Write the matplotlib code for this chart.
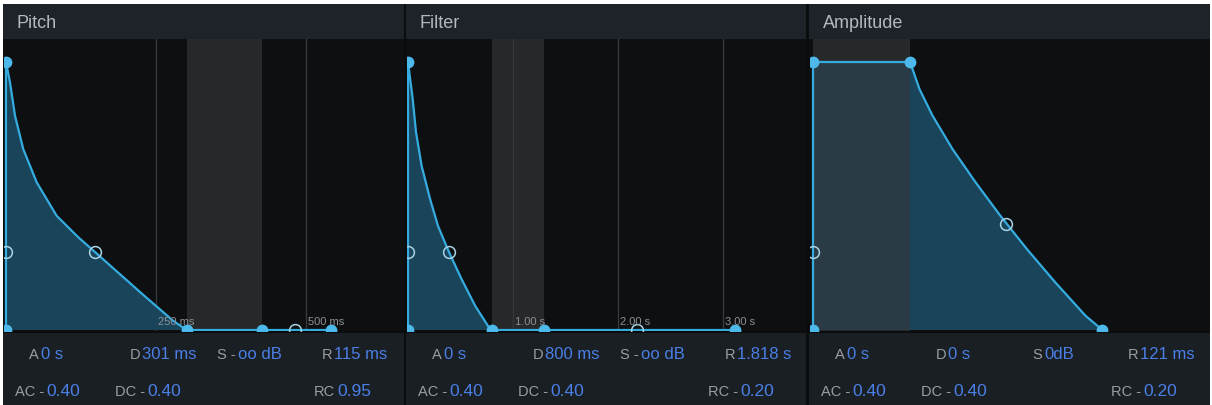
"""
plot.py

Recria o painel de envelopes (Pitch / Filter / Amplitude) de um synth.
"""

import matplotlib
matplotlib.use("Agg")
import matplotlib.pyplot as plt
from matplotlib.patches import Rectangle

plt.rcParams["font.family"] = ["Liberation Sans", "DejaVu Sans"]

# Tamanho da imagem em pixels
W, H = 1212, 406

# ---------------- Dados ----------------
# Pitch (tempo em ms, nível 0..1)
pitch_env_t = [0, 0, 6.7, 15, 28.8, 51.2, 84.5, 120, 148.3, 185, 228.3, 278.3, 301, 427, 542]
pitch_env_lvl = [0, 1.0, 0.924, 0.80, 0.675, 0.551, 0.426, 0.347, 0.291, 0.218, 0.132, 0.035, 0, 0, 0]
pitch_dots_t = [0, 0, 301, 427, 542]
pitch_dots_lvl = [0, 1.0, 0, 0, 0]
pitch_handles_t = [0, 148.3, 482]
pitch_handles_lvl = [0.29, 0.291, 0]
pitch_hold = [301, 427]
pitch_grid = [250, 500]
pitch_grid_labels = ["250 ms", "500 ms"]
pitch_row1_labels = ["A", "D", "S -", "R"]
pitch_row1_values = ["0 s", "301 ms", "oo dB", "115 ms"]
pitch_row2_labels = ["AC -", "DC -", "RC"]
pitch_row2_values = ["0.40", "0.40", "0.95"]

# Filter (tempo em s)
filter_env_t = [0, 0, 0.045, 0.076, 0.13, 0.21, 0.286, 0.39, 0.51, 0.64, 0.78, 0.80, 1.295, 3.113]
filter_env_lvl = [0, 1.0, 0.862, 0.739, 0.612, 0.489, 0.388, 0.291, 0.19, 0.09, 0.004, 0, 0, 0]
filter_dots_t = [0, 0, 0.80, 1.295, 3.113]
filter_dots_lvl = [0, 1.0, 0, 0, 0]
filter_handles_t = [0, 0.39, 2.18]
filter_handles_lvl = [0.29, 0.291, 0]
filter_hold = [0.80, 1.295]
filter_grid = [1, 2, 3]
filter_grid_labels = ["1.00 s", "2.00 s", "3.00 s"]
filter_row1_labels = ["A", "D", "S -", "R"]
filter_row1_values = ["0 s", "800 ms", "oo dB", "1.818 s"]
filter_row2_labels = ["AC -", "DC -", "RC -"]
filter_row2_values = ["0.40", "0.40", "0.20"]

# Amplitude (tempo em ms)
amp_env_t = [0, 0, 61.1, 67.0, 75.2, 87.8, 102.3, 117.8, 134.6, 152.4, 171.5, 182.1]
amp_env_lvl = [0, 1.0, 1.0, 0.899, 0.80, 0.675, 0.551, 0.427, 0.302, 0.178, 0.053, 0]
amp_dots_t = [0, 0, 61.1, 182.1]
amp_dots_lvl = [0, 1.0, 1.0, 0]
amp_handles_t = [0, 121.6]
amp_handles_lvl = [0.29, 0.396]
amp_hold = [0, 61.1]
amp_grid = []
amp_grid_labels = []
amp_row1_labels = ["A", "D", "S", "R"]
amp_row1_values = ["0 s", "0 s", "0dB", "121 ms"]
amp_row2_labels = ["AC -", "DC -", "RC -"]
amp_row2_values = ["0.40", "0.40", "0.20"]

# ---------------- Cores ----------------
BASE = "#0a0c0e"
TITLE_BG = "#1d2329"
BOTTOM_BG = "#1a1f24"
PLOT_BG = "#0d0f11"
FILL = "#1a4459"
HOLD = "#35373a"
LINE = "#35ace0"
DOT = "#4cb9ea"
HANDLE = "#a9d3e6"
GRID = "#3a3d40"
LABEL = "#9a9ea3"
VALUE = "#4a7fe6"
TITLE_TXT = "#b4b8bc"


def px_box(x0, y0, x1, y1):
    """Converte caixa em pixels (origem no topo) para fração da figura."""
    return [x0 / W, 1 - y1 / H, (x1 - x0) / W, (y1 - y0) / H]


def fig_rect(fig, x0, y0, x1, y1, color, z=-2):
    # zorder negativo: fica atrás dos eixos
    fig.patches.append(Rectangle((x0 / W, 1 - y1 / H), (x1 - x0) / W, (y1 - y0) / H,
                                 transform=fig.transFigure, color=color, zorder=z, lw=0))


def draw_panel(fig, px0, px1, title, xlim, env_t, env_lvl, dots_t, dots_lvl,
               hnd_t, hnd_lvl, hold, grid, grid_labels,
               r1_lab, r1_val, r2_lab, r2_val):
    # Barra de título e área de parâmetros
    fig_rect(fig, px0, 5, px1, 40, TITLE_BG, z=-1)
    fig_rect(fig, px0, 334, px1, 406, BOTTOM_BG, z=-1)
    fig.text((px0 + 14) / W, 1 - 23 / H, title, color=TITLE_TXT, fontsize=13,
             va="center", ha="left")

    # Área do gráfico
    ax = fig.add_axes(px_box(px0 + 1, 40, px1, 332))
    ax.set_facecolor(PLOT_BG)
    ax.set_xlim(*xlim)
    ax.set_ylim(-1 / 268, 291 / 268)
    ax.set_xticks([])
    ax.set_yticks([])
    for sp in ax.spines.values():
        sp.set_visible(False)

    # Região de sustain (cinza por cima do preenchimento)
    ax.axvspan(hold[0], hold[1], color=HOLD, alpha=0.63, lw=0, zorder=3)

    # Linhas de grade
    for g, lab in zip(grid, grid_labels):
        ax.axvline(g, color=GRID, lw=0.9, zorder=1)
        ax.annotate(lab, xy=(g, 0), xytext=(1.5, 3), textcoords="offset points",
                    fontsize=8, color="#8c9094", ha="left", va="bottom", zorder=6)

    # Envelope
    ax.fill(env_t, env_lvl, color=FILL, lw=0, zorder=2)
    ax.plot(env_t, env_lvl, color=LINE, lw=1.6, zorder=4, solid_joinstyle="round")
    ax.plot(dots_t, dots_lvl, "o", color=DOT, ms=8.5, mec="none", zorder=5)
    ax.plot(hnd_t, hnd_lvl, "o", mfc="none", mec=HANDLE, ms=8.5, mew=1.1, zorder=5)

    # Parâmetros (rótulo cinza + valor azul)
    for split, lab, val in zip([37, 138, 234, 330], r1_lab, r1_val):
        x = px0 + split
        fig.text((x - 1) / W, 1 - 359 / H, lab, color=LABEL, fontsize=10.5, ha="right", va="baseline")
        fig.text((x + 1) / W, 1 - 359 / H, val, color=VALUE, fontsize=12, ha="left", va="baseline")
    for split, lab, val in zip([42, 143, 333], r2_lab, r2_val):
        x = px0 + split
        fig.text((x - 1) / W, 1 - 396 / H, lab, color=LABEL, fontsize=10.5, ha="right", va="baseline")
        fig.text((x + 1) / W, 1 - 396 / H, val, color=VALUE, fontsize=12.5, ha="left", va="baseline")


fig = plt.figure(figsize=(W / 100, H / 100), dpi=100, facecolor="white")
fig_rect(fig, 3, 5, 1210, 406, BASE, z=-3)

draw_panel(fig, 3, 404, "Pitch", (-3.3, 663.3),
           pitch_env_t, pitch_env_lvl, pitch_dots_t, pitch_dots_lvl,
           pitch_handles_t, pitch_handles_lvl, pitch_hold, pitch_grid, pitch_grid_labels,
           pitch_row1_labels, pitch_row1_values, pitch_row2_labels, pitch_row2_values)

draw_panel(fig, 406, 806, "Filter", (-0.0095, 3.79),
           filter_env_t, filter_env_lvl, filter_dots_t, filter_dots_lvl,
           filter_handles_t, filter_handles_lvl, filter_hold, filter_grid, filter_grid_labels,
           filter_row1_labels, filter_row1_values, filter_row2_labels, filter_row2_values)

draw_panel(fig, 809, 1210, "Amplitude", (-1.89, 249.8),
           amp_env_t, amp_env_lvl, amp_dots_t, amp_dots_lvl,
           amp_handles_t, amp_handles_lvl, amp_hold, amp_grid, amp_grid_labels,
           amp_row1_labels, amp_row1_values, amp_row2_labels, amp_row2_values)

fig.savefig("out.png", dpi=100, facecolor=fig.get_facecolor())
